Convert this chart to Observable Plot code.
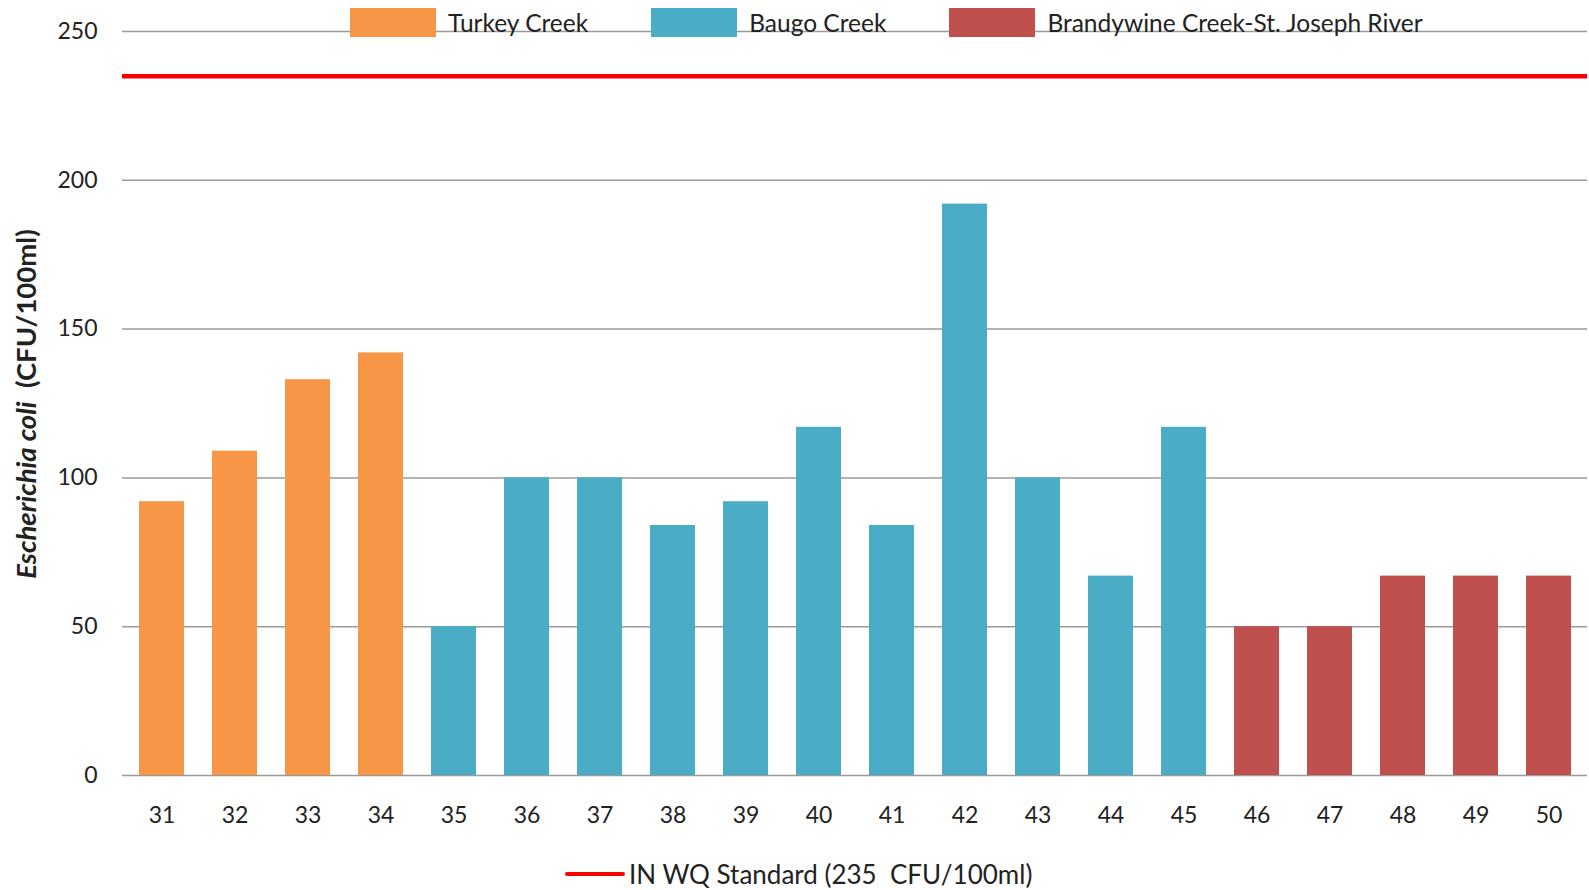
<!DOCTYPE html>
<html>
<head>
<meta charset="utf-8">
<script src="https://cdn.jsdelivr.net/npm/d3@7"></script>
<script src="https://cdn.jsdelivr.net/npm/@observablehq/plot@0.6"></script>
<style>
  html, body { margin: 0; padding: 0; overflow: hidden; width: 1589px; height: 890px; }
  body { background: #fff; font-family: Lato, "Open Sans", sans-serif; color: #222; }
  #wrap { position: relative; width: 1589px; height: 890px; overflow: hidden; }
  #chart svg { display: block; }
  #legend-top { position: absolute; left: 350px; top: 8px; display: flex; align-items: center; gap: 63px; font-size: 24.5px; white-space: pre; }
  .item { display: flex; align-items: center; gap: 12px; }
  .sw { width: 86px; height: 29px; display: inline-block; }
  #legend-bottom { position: absolute; left: 565px; top: 858px; display: flex; align-items: center; font-size: 26px; white-space: pre; }
  #legend-bottom .ln { width: 60px; height: 4.5px; background: #ff0000; border-radius: 2px; margin-right: 4px; }
</style>
</head>
<body>
<div id="wrap">
  <div id="chart"></div>
  <div id="legend-top"></div>
  <div id="legend-bottom"><span class="ln"></span><span id="std-label"></span></div>
</div>
<script>
const sites = ["31","32","33","34","35","36","37","38","39","40","41","42","43","44","45","46","47","48","49","50"];
const ecoli = [92,109,133,142,50,100,100,84,92,117,84,192,100,67,117,50,50,67,67,67];
const watershed = ["Turkey Creek","Turkey Creek","Turkey Creek","Turkey Creek",
  "Baugo Creek","Baugo Creek","Baugo Creek","Baugo Creek","Baugo Creek","Baugo Creek","Baugo Creek","Baugo Creek","Baugo Creek","Baugo Creek","Baugo Creek",
  "Brandywine Creek-St. Joseph River","Brandywine Creek-St. Joseph River","Brandywine Creek-St. Joseph River","Brandywine Creek-St. Joseph River","Brandywine Creek-St. Joseph River"];
const groups = ["Turkey Creek","Baugo Creek","Brandywine Creek-St. Joseph River"];
const groupColors = ["#F79646","#4BACC6","#C0504D"];
const yTicks = [0,50,100,150,200,250];
const standard = 235;
const standardLabel = "IN WQ Standard (235  CFU/100ml)";

const data = sites.map((s, i) => ({site: s, value: ecoli[i], group: watershed[i]}));

const chart = Plot.plot({
  width: 1589,
  height: 840,
  marginTop: 31,
  marginBottom: 65,
  marginLeft: 122,
  marginRight: 2,
  style: {fontFamily: "Lato, 'Open Sans', sans-serif", fontSize: "23px", color: "#222", background: "transparent"},
  x: {domain: sites, paddingInner: 0.389, paddingOuter: 0.222, label: null, tickSize: 0, tickPadding: 31},
  y: {domain: [0, 250], ticks: yTicks, label: null, tickSize: 0, tickPadding: 25},
  color: {domain: groups, range: groupColors},
  marks: [
    Plot.ruleY(yTicks, {stroke: "#9a9a9a", strokeWidth: 1.5}),
    Plot.barY(data, {x: "site", y: "value", fill: "group"}),
    Plot.ruleY([standard], {stroke: "#ff0000", strokeWidth: 4.5})
  ]
});
document.getElementById("chart").appendChild(chart);

// y-axis title
const svg = d3.select(chart);
const t = svg.append("text")
  .attr("transform", "translate(36,404) rotate(-90)")
  .attr("text-anchor", "middle")
  .attr("font-size", 27.5)
  .attr("font-weight", "bold")
  .attr("fill", "#222")
  .style("white-space", "pre");
t.append("tspan").attr("font-style", "italic").text("Escherichia coli");
t.append("tspan").text("  (CFU/100ml)");

const lt = d3.select("#legend-top");
groups.forEach((g, i) => {
  const it = lt.append("div").attr("class", "item");
  it.append("span").attr("class", "sw").style("background", groupColors[i]);
  it.append("span").text(g);
});
document.getElementById("std-label").textContent = standardLabel;
</script>
</body>
</html>
